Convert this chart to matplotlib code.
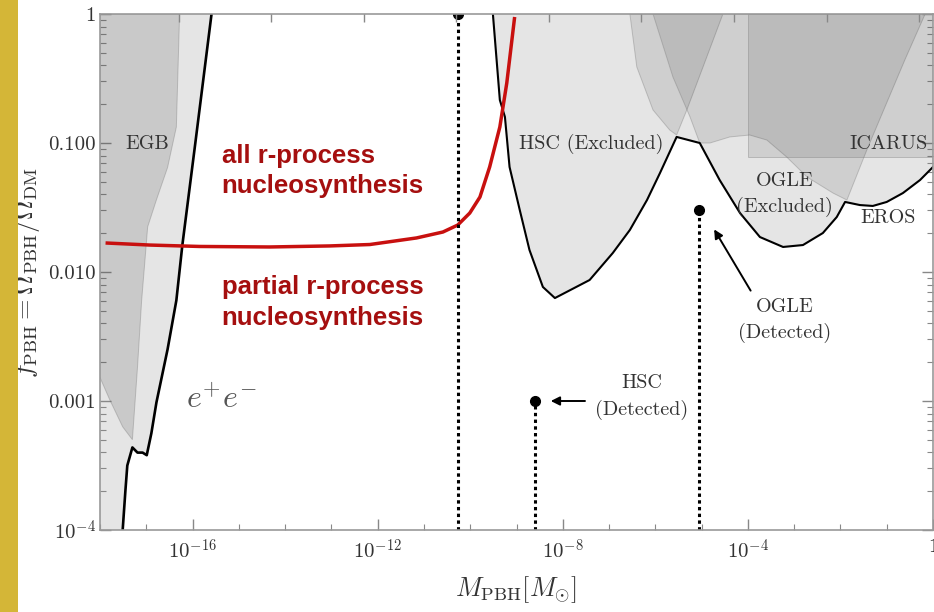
import numpy as np
import matplotlib
matplotlib.use("Agg")
import matplotlib.pyplot as plt
from matplotlib.ticker import FixedLocator, NullFormatter, NullLocator

plt.rcParams["font.family"] = "serif"
plt.rcParams["font.serif"] = ["cmr10", "DejaVu Serif"]
plt.rcParams["mathtext.fontset"] = "cm"
plt.rcParams["axes.unicode_minus"] = False

# all values are log10: mass in solar masses, f = Omega_PBH / Omega_DM
# e+e- / EGB combined bound (black line, left)
EE_LOGM = [-15.59, -15.94, -16.22, -16.35, -16.54, -16.78, -16.89, -16.99,
           -17.08, -17.19, -17.30, -17.41, -17.45, -17.51]
EE_LOGF = [0.0, -1.0, -1.79, -2.22, -2.60, -3.01, -3.25, -3.42,
           -3.40, -3.40, -3.36, -3.50, -3.69, -4.0]

# EGB (darker overlay)
EGB_LOGM = [-16.28, -16.35, -16.54, -16.78, -16.97, -17.04, -17.10, -17.19,
            -17.30, -17.51, -17.79, -18.01]
EGB_LOGF = [0.0, -0.876, -1.19, -1.44, -1.65, -1.96, -2.22, -2.74,
            -3.30, -3.20, -2.99, -2.81]

# HSC / OGLE / EROS combined bound (black line, right)
MICRO_LOGM = [-9.51, -9.36, -9.25, -9.15, -8.93, -8.72, -8.43, -8.17, -7.42,
              -6.92, -6.55, -6.18, -5.90, -5.54, -5.04, -4.61, -4.17, -3.74,
              -3.24, -2.81, -2.38, -2.08, -1.90, -1.58, -1.30, -1.00, -0.65,
              -0.28, 0.0]
MICRO_LOGF = [0.0, -0.667, -0.798, -1.186, -1.519, -1.829, -2.116, -2.202,
              -2.062, -1.853, -1.674, -1.442, -1.233, -0.953, -1.000, -1.287,
              -1.543, -1.729, -1.806, -1.791, -1.698, -1.574, -1.457, -1.481,
              -1.488, -1.457, -1.388, -1.287, -1.186]

# overlapping individual bounds (upper right)
REGA_LOGM = [-6.55, -6.40, -6.05, -5.69, -5.54, -5.32, -4.97, -4.54]
REGA_LOGF = [0.0, -0.411, -0.744, -0.899, -0.938, -0.744, -0.411, 0.0]
REGB_LOGM = [-6.05, -5.62, -5.25, -5.04, -4.82, -4.39, -3.96, -3.59, -3.16,
             -2.72, -2.16, -1.86, -1.43, -1.02, -0.61, -0.17]
REGB_LOGF = [0.0, -0.488, -0.798, -1.0, -1.0, -0.953, -0.938, -0.977, -1.109,
             -1.264, -1.388, -1.442, -1.054, -0.705, -0.357, 0.0]
ICARUS_LOGM = [-4.0, 0.0]
ICARUS_LOGF = [-1.108, 0.0]

# r-process line
RPROC_LOGM = [-17.88, -16.93, -15.85, -14.34, -13.04, -12.17, -11.16, -10.59,
              -10.27, -10.01, -9.79, -9.58, -9.36, -9.21, -9.04]
RPROC_LOGF = [-1.775, -1.791, -1.802, -1.806, -1.798, -1.787, -1.736, -1.690,
              -1.636, -1.543, -1.419, -1.186, -0.876, -0.535, -0.023]

# marked masses (dots with dotted drop lines)
POINT_LOGM = [-10.27, -8.605, -5.06]
POINT_LOGF = [0.0, -3.0, -1.52]

XTICK_EXP = [-16, -12, -8, -4, 0]
XTICK_LABELS = [r"$10^{-16}$", r"$10^{-12}$", r"$10^{-8}$", r"$10^{-4}$", "1"]
YTICK_EXP = [0, -1, -2, -3, -4]
YTICK_LABELS = ["1", "0.100", "0.010", "0.001", r"$10^{-4}$"]
TOP_TICK_EXP = [-16.3, -14.3, -12.3, -10.3, -8.3, -6.3, -4.3, -2.3, -0.3]

XMIN, XMAX = 1e-18, 1e0
YMIN, YMAX = 1e-4, 1e0


def p(v):
    return 10.0 ** np.asarray(v, dtype=float)


fig = plt.figure(figsize=(9.34, 6.12), dpi=100)
ax = fig.add_axes([100 / 934, 82 / 612, 833 / 934, 516 / 612])
ax.set_xscale("log")
ax.set_yscale("log")
ax.set_xlim(XMIN, XMAX)
ax.set_ylim(YMIN, YMAX)

light = "#e5e5e5"
tcol = "#333333"

# base excluded regions
ax.fill(np.r_[p(EE_LOGM), XMIN, XMIN], np.r_[p(EE_LOGF), YMIN, YMAX],
        color=light, lw=0, zorder=1)
ax.fill(np.r_[p(MICRO_LOGM), XMAX, XMAX], np.r_[p(MICRO_LOGF), YMAX, YMAX],
        color=light, lw=0, zorder=1)

# overlays
ov = dict(facecolor=(0, 0, 0, 0.095), edgecolor=(0.45, 0.45, 0.45, 0.35),
          lw=0.7, zorder=2)
ax.fill(np.r_[p(EGB_LOGM), XMIN], np.r_[p(EGB_LOGF), YMAX],
        facecolor=(0, 0, 0, 0.12), edgecolor=(0.45, 0.45, 0.45, 0.35), lw=0.7, zorder=2)
ax.fill(p(REGA_LOGM), p(REGA_LOGF), **ov)
ax.fill(p(REGB_LOGM), p(REGB_LOGF), **ov)
ax.fill(p([ICARUS_LOGM[0], ICARUS_LOGM[1], ICARUS_LOGM[1], ICARUS_LOGM[0]]),
        p([ICARUS_LOGF[0], ICARUS_LOGF[0], ICARUS_LOGF[1], ICARUS_LOGF[1]]), **ov)

# boundary lines
ax.plot(p(EE_LOGM), p(EE_LOGF), color="black", lw=1.9, zorder=3)
ax.plot(p(MICRO_LOGM), p(MICRO_LOGF), color="black", lw=1.5, zorder=3)
ax.plot(p(RPROC_LOGM), p(RPROC_LOGF), color="#c8100f", lw=2.5, zorder=4,
        solid_capstyle="butt")

# detections / marked masses
for lm, lf in zip(POINT_LOGM, POINT_LOGF):
    ax.plot([p(lm), p(lm)], [YMIN, p(lf)], color="black", lw=2.2,
            ls=(0, (1.1, 1.1)), zorder=5)
    ax.plot(p(lm), p(lf), "o", color="black", ms=7, zorder=6)

arrow = dict(arrowstyle="-|>", color="black", lw=1.4, mutation_scale=13)
ax.annotate("", xy=(p(-8.32), p(-3.0)), xytext=(p(-7.46), p(-3.0)),
            arrowprops=arrow, zorder=6)
ax.annotate("", xy=(p(-4.76), p(-1.651)), xytext=(p(-3.91), p(-2.163)),
            arrowprops=arrow, zorder=6)

# labels in the plot
fs = 14.5
lab = dict(fontsize=fs, color=tcol, ha="center", va="center", zorder=7)
ax.text(p(-16.99), p(-1.008), "EGB", **lab)
ax.text(p(-7.39), p(-1.008), "HSC (Excluded)", **lab)
ax.text(p(-0.95), p(-1.008), "ICARUS", **lab)
ax.text(p(-3.20), p(-1.295), "OGLE", **lab)
ax.text(p(-3.20), p(-1.496), "(Excluded)", **lab)
ax.text(p(-0.97), p(-1.581), "EROS", **lab)
ax.text(p(-3.20), p(-2.275), "OGLE", **lab)
ax.text(p(-3.20), p(-2.47), "(Detected)", **lab)
ax.text(p(-6.30), p(-2.86), "HSC", **lab)
ax.text(p(-6.30), p(-3.07), "(Detected)", **lab)
ax.text(p(-15.37), p(-2.99), r"$e^{+}e^{-}$", fontsize=23, color="#555555",
        ha="center", va="center", zorder=7)

red = dict(fontsize=18.5, color="#a50f0f", fontweight="bold",
           family=["Liberation Sans", "DejaVu Sans"], ha="left", va="center", zorder=7)
ax.text(p(-15.37), p(-1.10), "all r-process", **red)
ax.text(p(-15.37), p(-1.333), "nucleosynthesis", **red)
ax.text(p(-15.37), p(-2.116), "partial r-process", **red)
ax.text(p(-15.37), p(-2.357), "nucleosynthesis", **red)

# axes styling
for s in ax.spines.values():
    s.set_color("#999999")
    s.set_linewidth(1.2)
    s.set_zorder(8)

ax.xaxis.set_major_locator(FixedLocator(p(XTICK_EXP)))
ax.set_xticklabels(XTICK_LABELS)
ax.xaxis.set_minor_locator(FixedLocator(p(np.arange(-18, 1))))
ax.xaxis.set_minor_formatter(NullFormatter())
ax.yaxis.set_major_locator(FixedLocator(p(YTICK_EXP)))
ax.set_yticklabels(YTICK_LABELS)
ax.yaxis.set_minor_locator(matplotlib.ticker.LogLocator(base=10, subs=np.arange(2, 10)))
ax.yaxis.set_minor_formatter(NullFormatter())
ax.tick_params(which="both", direction="in", color="#888888", labelcolor=tcol,
               labelsize=15, right=True, top=False)
ax.tick_params(which="major", length=8, width=1.0)
ax.tick_params(which="minor", length=4.5, width=0.8)
ax.tick_params(axis="x", pad=6)
ax.tick_params(axis="y", pad=3)

axt = ax.twiny()
axt.set_xscale("log")
axt.set_xlim(XMIN, XMAX)
axt.xaxis.set_major_locator(FixedLocator(p(TOP_TICK_EXP)))
axt.xaxis.set_minor_locator(NullLocator())
axt.xaxis.set_major_formatter(NullFormatter())
axt.tick_params(direction="in", length=6, color="#888888", width=1.0)
for s in axt.spines.values():
    s.set_visible(False)

fig.text(516 / 934, 1 - 590 / 612, r"$M_{\mathrm{PBH}}[M_{\odot}]$", fontsize=19,
         color=tcol, ha="center", va="center")
fig.text(27 / 934, 1 - 272 / 612,
         r"$f_{\mathrm{PBH}} = \Omega_{\mathrm{PBH}}/\Omega_{\mathrm{DM}}$",
         fontsize=19, color=tcol, rotation=90, ha="center", va="center")

# yellow strip at the left edge
fig.patches.append(plt.Rectangle((0, 0), 17.5 / 934, 1, transform=fig.transFigure,
                                 facecolor="#d4b637", edgecolor="none", zorder=10))

fig.savefig("out.png", dpi=100)
